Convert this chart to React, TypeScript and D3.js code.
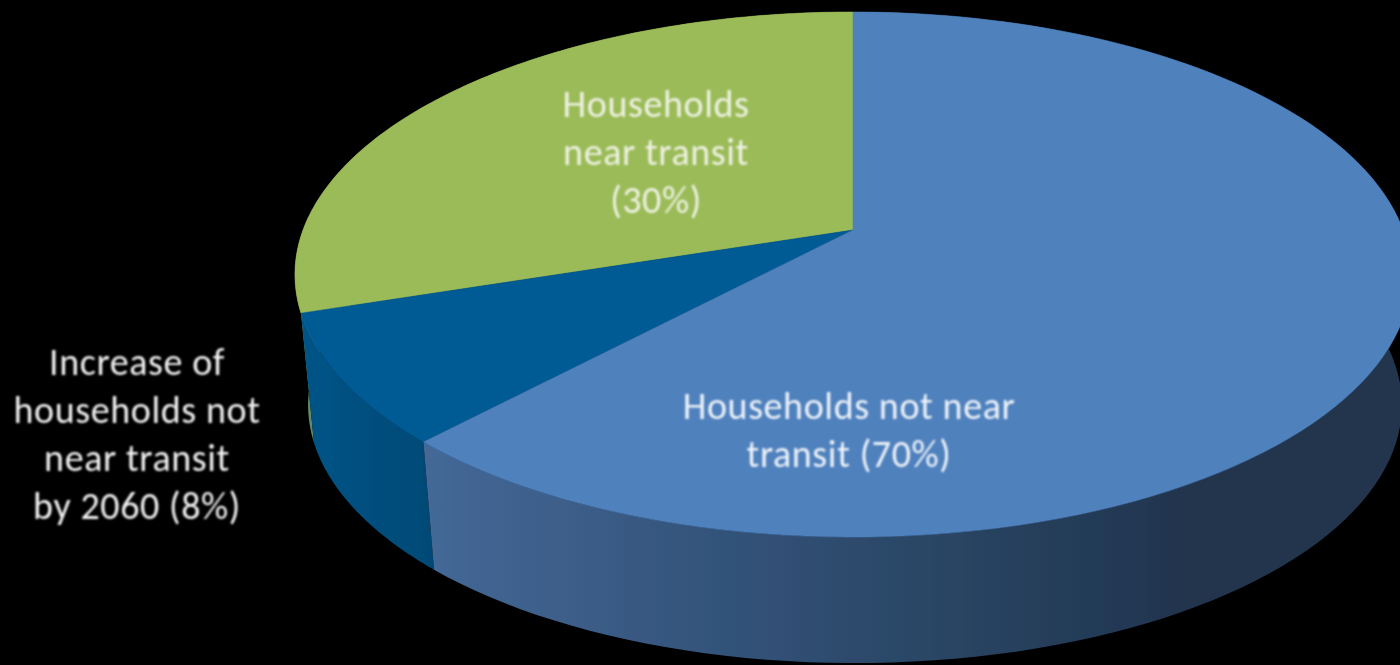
import React, { useEffect } from "react";
import * as d3 from "d3";

const categories = ["Households not near transit", "Increase of households not near transit by 2060", "Households near transit"];
const sliceValues = [62, 8, 30];
const topColors = ["#4f81bd", "#005a94", "#9bbb59"];
const labelLinesBlue = ["Households not near", "transit (70%)"];
const labelLinesDark = ["Increase of", "households not", "near transit", "by 2060 (8%)"];
const labelLinesGreen = ["Households", "near transit", "(30%)"];

const W = 1400, H = 665;
// perspective of the pie's top face
const apex = { x: 853, y: 230 }, persp = 0.1695, bScale = 255, cScale = 550;
const ellC = { x: 853, y: 274.5 };
const base = { x: 855, y: 405, sx: 0.98, sy: 0.983 };

type P = [number, number];
const projectTop = (t: number): P => {
  const u = Math.sin(t), v = Math.cos(t), k = 1 + persp * v;
  return [apex.x + (cScale * u) / k, apex.y - (bScale * v) / k];
};
const projectBase = (t: number): P => {
  const [x, y] = projectTop(t);
  return [base.x + (x - ellC.x) * base.sx, base.y + (y - ellC.y) * base.sy];
};
const samples = (a0: number, a1: number) => d3.range(0, 121).map((i) => a0 + ((a1 - a0) * i) / 120);
const line = d3.line<P>().x((d) => d[0]).y((d) => d[1]);

const arcs = d3.pie<number>().sort(null)(sliceValues);

const Label = ({ lines, x, y, step, fill }: { lines: string[]; x: number; y: number; step: number; fill: string }) => (
  <text x={x} y={y} textAnchor="middle" fontFamily="Carlito, Lato, 'Open Sans', sans-serif" fontSize={38} letterSpacing={0.6} fill={fill} filter="url(#softText)">
    {lines.map((l, i) => (
      <tspan key={l} x={x} y={y + i * step}>{l}</tspan>
    ))}
  </text>
);

export default function App() {
  useEffect(() => {
    document.body.style.margin = "0";
    document.body.style.background = "#000";
  }, []);
  const wallFills = ["url(#wallBlue)", "url(#wallDark)", "url(#wallGreen)"];
  const drawOrder = [2, 1, 0];
  return (
    <svg width={W} height={H} viewBox={`0 0 ${W} ${H}`} style={{ display: "block", position: "absolute", left: 0, top: 0, background: "#000" }}>
      <defs>
        <filter id="soft" x="-5%" y="-5%" width="110%" height="110%">
          <feGaussianBlur stdDeviation="0.7" />
        </filter>
        <filter id="softText" x="-5%" y="-5%" width="110%" height="110%">
          <feGaussianBlur stdDeviation="0.9" />
        </filter>
        <linearGradient id="wallBlue" gradientUnits="userSpaceOnUse" x1="424" x2="1400" y1="0" y2="0">
          <stop offset="0" stopColor="#446897" />
          <stop offset="0.3" stopColor="#33537a" />
          <stop offset="0.55" stopColor="#294462" />
          <stop offset="0.78" stopColor="#20344e" />
          <stop offset="1" stopColor="#20344e" />
        </linearGradient>
        <linearGradient id="wallDark" gradientUnits="userSpaceOnUse" x1="300" x2="430" y1="0" y2="0">
          <stop offset="0" stopColor="#005487" />
          <stop offset="1" stopColor="#004a76" />
        </linearGradient>
        <linearGradient id="wallGreen" gradientUnits="userSpaceOnUse" x1="0" x2="0" y1="310" y2="430">
          <stop offset="0" stopColor="#7f9a45" />
          <stop offset="1" stopColor="#5f8a6a" />
        </linearGradient>
      </defs>
      <g filter="url(#soft)">
        {drawOrder.map((i) => {
          const s = samples(arcs[i].startAngle, arcs[i].endAngle);
          const pts: P[] = [...s.map(projectTop), ...s.slice().reverse().map(projectBase)];
          return <path key={categories[i] + "w"} d={line(pts) + "Z"} fill={wallFills[i]} />;
        })}
        {drawOrder.map((i) => {
          const s = samples(arcs[i].startAngle, arcs[i].endAngle);
          const pts: P[] = [[apex.x, apex.y], ...s.map(projectTop)];
          return <path key={categories[i]} d={line(pts) + "Z"} fill={topColors[i]} stroke={topColors[i]} strokeWidth={0.5} />;
        })}
      </g>
      <Label lines={labelLinesGreen} x={656} y={117} step={48} fill="#eef2e2" />
      <Label lines={labelLinesBlue} x={849} y={419} step={48} fill="#eef3f9" />
      <Label lines={labelLinesDark} x={137} y={375} step={48} fill="#f2f2f2" />
    </svg>
  );
}
